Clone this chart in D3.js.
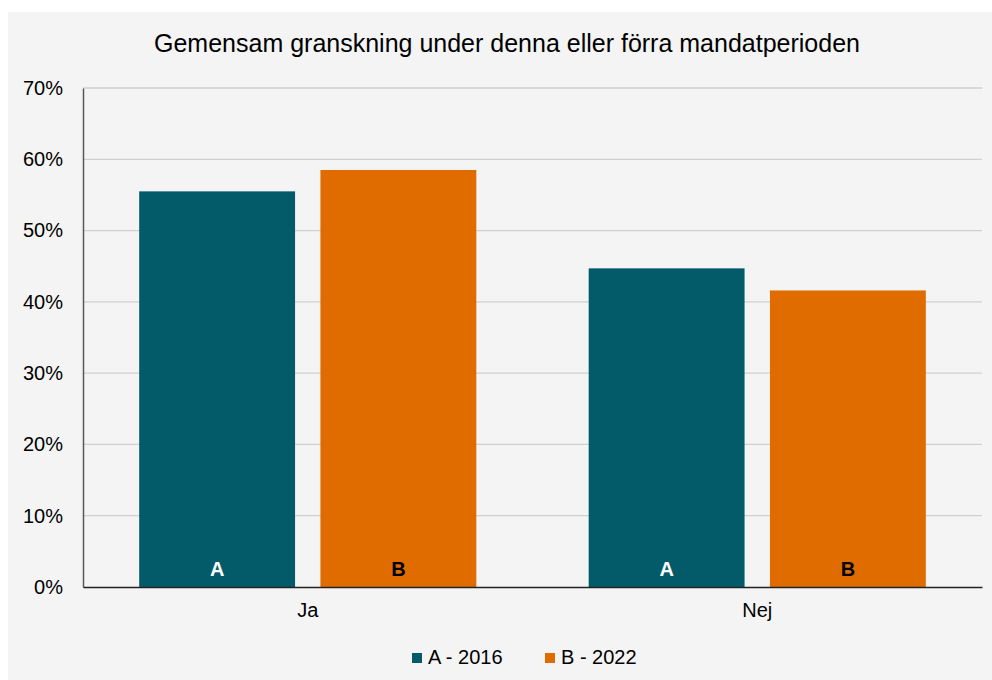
<!DOCTYPE html>
<html>
<head>
<meta charset="utf-8">
<script src="https://cdn.jsdelivr.net/npm/d3@7"></script>
<style>
  body { margin: 0; background: #fff; }
  text { font-family: "Liberation Sans", Arial, sans-serif; }
</style>
</head>
<body>
<svg></svg>
<script>
const categories = ["Ja", "Nej"];
const seriesNames = ["A - 2016", "B - 2022"];
const barLetters = ["A", "B"];
const valuesA = [0.555, 0.447];
const valuesB = [0.585, 0.416];
const tickValues = [0, 0.1, 0.2, 0.3, 0.4, 0.5, 0.6, 0.7];
const colors = ["#035b6a", "#e06c00"];

let width = 992,
    height = 680;

const svg = d3.select("svg")
    .attr("width", width)
    .attr("height", height);

// grå bakgrund
svg.append("rect")
    .attr("x", 8).attr("y", 12)
    .attr("width", width - 8).attr("height", height - 12)
    .attr("fill", "#f4f4f4");

const margin = { left: 83, right: 10, top: 88, bottom: 93 };

const x0 = d3.scaleBand()
    .domain(categories)
    .range([margin.left, width - margin.right])
    .paddingInner(0.25)
    .paddingOuter(0.125);

const x1 = d3.scaleBand()
    .domain([0, 1])
    .range([0, x0.bandwidth()])
    .paddingInner(0.14);

const y = d3.scaleLinear()
    .domain([0, 0.7])
    .range([height - margin.bottom, margin.top]);

// rutnät
svg.append("g").attr("class", "grid")
    .selectAll("line")
    .data(tickValues.slice(1))
    .enter()
    .append("line")
    .attr("x1", margin.left)
    .attr("x2", width - margin.right)
    .attr("y1", d => y(d))
    .attr("y2", d => y(d))
    .attr("stroke", "#d0d0d0")
    .attr("stroke-width", 1.3);

// staplar
const data = [];
categories.forEach((c, i) => {
    data.push({ cat: c, s: 0, v: valuesA[i] });
    data.push({ cat: c, s: 1, v: valuesB[i] });
});

svg.append("g").attr("class", "bars")
    .selectAll("rect")
    .data(data)
    .enter()
    .append("rect")
    .attr("x", d => x0(d.cat) + x1(d.s))
    .attr("width", x1.bandwidth())
    .attr("y", d => y(d.v))
    .attr("height", d => y(0) - y(d.v))
    .attr("fill", d => colors[d.s]);

svg.append("g").attr("class", "barLabels")
    .selectAll("text")
    .data(data)
    .enter()
    .append("text")
    .attr("x", d => x0(d.cat) + x1(d.s) + x1.bandwidth() / 2)
    .attr("y", y(0) - 11)
    .attr("text-anchor", "middle")
    .attr("font-size", 20)
    .attr("font-weight", "bold")
    .attr("fill", d => d.s === 0 ? "#fff" : "#000")
    .text(d => barLetters[d.s]);

// y-axel
const yAxis = svg.append("g")
    .attr("transform", `translate(${margin.left},0)`)
    .call(d3.axisLeft(y).tickValues(tickValues).tickFormat(d3.format(".0%")).tickSize(0).tickPadding(20));
yAxis.select(".domain").attr("stroke", "#595959").attr("stroke-width", 1.5);
yAxis.selectAll("text").attr("font-size", 20).attr("fill", "#000")
    .attr("font-family", "Liberation Sans, Arial, sans-serif");

// x-axel
const xAxis = svg.append("g")
    .attr("transform", `translate(0,${y(0)})`)
    .call(d3.axisBottom(x0).tickSize(0).tickPadding(16));
xAxis.select(".domain").attr("stroke", "#222").attr("stroke-width", 1.5);
xAxis.selectAll("text").attr("font-size", 20).attr("fill", "#000")
    .attr("font-family", "Liberation Sans, Arial, sans-serif");

// titel
svg.append("text")
    .attr("x", 507)
    .attr("y", 52)
    .attr("text-anchor", "middle")
    .attr("font-size", 25)
    .attr("fill", "#000")
    .text("Gemensam granskning under denna eller förra mandatperioden");

// legend
const legendX = [412, 545];
const legend = svg.append("g").attr("class", "legend")
    .selectAll("g")
    .data(seriesNames)
    .enter()
    .append("g")
    .attr("transform", (d, i) => `translate(${legendX[i]},653)`);
legend.append("rect")
    .attr("width", 10).attr("height", 10)
    .attr("fill", (d, i) => colors[i]);
legend.append("text")
    .attr("x", 16)
    .attr("y", 11)
    .attr("font-size", 20)
    .attr("fill", "#000")
    .text(d => d);
</script>
</body>
</html>
